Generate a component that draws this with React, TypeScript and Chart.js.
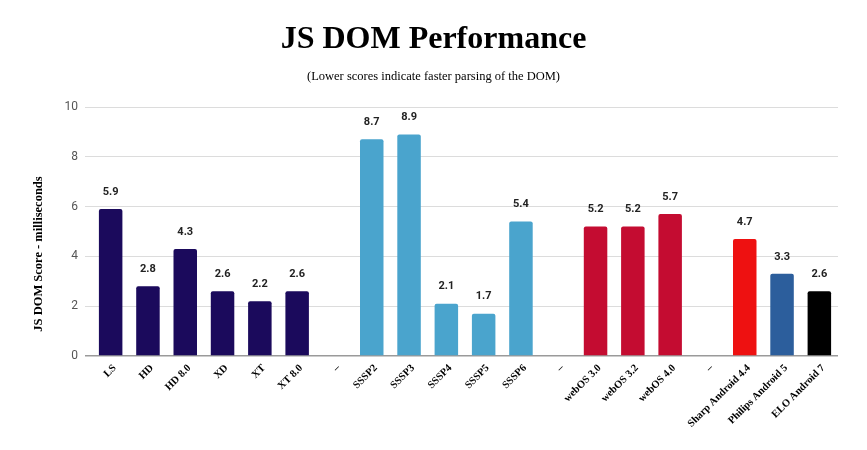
import React, { useEffect, useRef } from "react";
import { Chart, registerables } from "chart.js";

Chart.register(...registerables);

const categories = [
  "LS", "HD", "HD 8.0", "XD", "XT", "XT 8.0", "–",
  "SSSP2", "SSSP3", "SSSP4", "SSSP5", "SSSP6", "–",
  "webOS 3.0", "webOS 3.2", "webOS 4.0", "–",
  "Sharp Android 4.4", "Philips Android 5", "ELO Android 7",
];
const scores: (number | null)[] = [
  5.9, 2.8, 4.3, 2.6, 2.2, 2.6, null,
  8.7, 8.9, 2.1, 1.7, 5.4, null,
  5.2, 5.2, 5.7, null,
  4.7, 3.3, 2.6,
];
const barColors = [
  "#1b0a5c", "#1b0a5c", "#1b0a5c", "#1b0a5c", "#1b0a5c", "#1b0a5c", "#000000",
  "#4aa4cd", "#4aa4cd", "#4aa4cd", "#4aa4cd", "#4aa4cd", "#000000",
  "#c40c31", "#c40c31", "#c40c31", "#000000",
  "#ee1111", "#2c5e9c", "#000000",
];
const yTicks = [0, 2, 4, 6, 8, 10];
const titleText = "JS DOM Performance";
const subtitleText = "(Lower scores indicate faster parsing of the DOM)";
const yTitleText = "JS DOM Score - milliseconds";

const SERIF = "'Liberation Serif', 'Times New Roman', serif";

const valueLabels = {
  id: "valueLabels",
  afterDatasetsDraw(chart: any) {
    const ctx = chart.ctx;
    const meta = chart.getDatasetMeta(0);
    ctx.save();
    ctx.font = "bold 11px Roboto, sans-serif";
    ctx.fillStyle = "#222222";
    ctx.textAlign = "center";
    ctx.textBaseline = "middle";
    meta.data.forEach((bar: any, i: number) => {
      const v = scores[i];
      if (v === null || v === undefined) return;
      ctx.fillText(v.toFixed(1), bar.x, bar.y - 17);
    });
    ctx.restore();
  },
};

const texts = {
  id: "texts",
  afterDraw(chart: any) {
    const ctx = chart.ctx;
    const w = chart.width;
    ctx.save();
    ctx.fillStyle = "#000000";
    ctx.textAlign = "center";
    ctx.textBaseline = "middle";
    ctx.font = `bold 32px ${SERIF}`;
    ctx.fillText(titleText, w / 2, 40);
    ctx.font = `12.5px ${SERIF}`;
    ctx.fillText(subtitleText, w / 2, 77);
    ctx.translate(39, 254);
    ctx.rotate(-Math.PI / 2);
    ctx.font = `bold 12.5px ${SERIF}`;
    ctx.fillText(yTitleText, 0, 0);
    ctx.restore();
  },
};

export default function App() {
  const canvasRef = useRef<HTMLCanvasElement | null>(null);

  useEffect(() => {
    document.body.style.margin = "0";
    const canvas = canvasRef.current;
    if (!canvas) return;
    const chart = new Chart(canvas, {
      type: "bar",
      data: {
        labels: categories,
        datasets: [
          {
            data: scores as any,
            backgroundColor: barColors,
            borderRadius: 2,
            categoryPercentage: 1,
            barPercentage: 0.63,
          },
        ],
      },
      options: {
        responsive: false,
        animation: false,
        devicePixelRatio: 1,
        layout: { padding: { left: 0, right: 29, top: 107, bottom: 0 } },
        plugins: {
          legend: { display: false },
          tooltip: { enabled: false },
          title: { display: false },
        },
        scales: {
          x: {
            grid: { display: false },
            border: { display: false },
            ticks: {
              autoSkip: false,
              minRotation: 45,
              maxRotation: 45,
              padding: -2,
              labelOffset: 4,
              color: "#000000",
              font: { family: SERIF, size: 10.5, weight: "bold" },
            },
            afterFit(scale: any) {
              scale.height = 94;
            },
          },
          y: {
            min: 0,
            max: 10,
            afterBuildTicks(scale: any) {
              scale.ticks = yTicks.map((v) => ({ value: v }));
            },
            grid: {
              color: (c: any) => (c.tick && c.tick.value === 0 ? "#9a9a9a" : "#dcdcdc"),
              lineWidth: (c: any) => (c.tick && c.tick.value === 0 ? 1.5 : 1),
              tickLength: 7,
            },
            border: { display: false },
            ticks: {
              padding: 7,
              color: "#555555",
              font: { family: "Roboto, sans-serif", size: 12 },
            },
            afterFit(scale: any) {
              scale.width = 92;
            },
          },
        },
      },
      plugins: [valueLabels, texts],
    });
    return () => chart.destroy();
  }, []);

  return (
    <div style={{ width: 867, height: 450 }}>
      <canvas ref={canvasRef} width={867} height={450} />
    </div>
  );
}
